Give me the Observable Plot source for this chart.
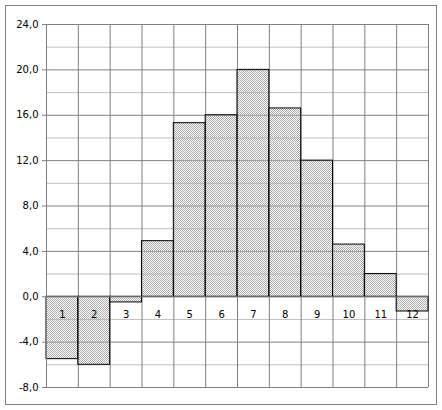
<!DOCTYPE html>
<html>
<head>
<meta charset="utf-8">
<script src="https://cdn.jsdelivr.net/npm/d3@7"></script>
<script src="https://cdn.jsdelivr.net/npm/@observablehq/plot@0.6"></script>
<style>
  html, body { margin: 0; padding: 0; background: #fff; }
  svg { display: block; }
</style>
</head>
<body>
<div id="chart"></div>
<script>
const months = [1, 2, 3, 4, 5, 6, 7, 8, 9, 10, 11, 12];
const values = [-5.5, -6.0, -0.5, 4.9, 15.3, 16.0, 20.0, 16.6, 12.0, 4.6, 2.0, -1.3];
const yTicks = [-8, -4, 0, 4, 8, 12, 16, 20, 24];
const yMinor = [-6, -2, 2, 6, 10, 14, 18, 22];

const data = months.map((m, i) => ({ m, v: values[i] }));
const edges = [months[0] - 0.5, ...months.map(m => m + 0.5)];

const chart = Plot.plot({
  width: 442,
  height: 410,
  marginLeft: 46,
  marginRight: 14,
  marginTop: 24,
  marginBottom: 23,
  x: { domain: [0.5, 12.5], axis: null },
  y: { domain: [-8, 24], axis: null },
  style: { fontFamily: "'DejaVu Sans', Verdana, sans-serif", fontSize: "10px", background: "#fff", color: "#000" },
  marks: [
    Plot.ruleY(yMinor, { stroke: "#c0c0c0", strokeWidth: 1 }),
    Plot.ruleY(yTicks, { stroke: "#808080", strokeWidth: 1 }),
    Plot.ruleX(edges, { stroke: "#808080", strokeWidth: 1 }),
    Plot.rect(data, {
      x1: d => d.m - 0.5, x2: d => d.m + 0.5, y1: 0, y2: "v",
      fill: "url(#hatch)", stroke: "#000", strokeWidth: 1
    }),
    Plot.ruleY([0], { stroke: "#808080", strokeWidth: 1 }),
    Plot.ruleX([edges[0]], { stroke: "#808080", strokeWidth: 1 }),
    Plot.axisY(yTicks, {
      label: null, tickSize: 4, tickPadding: 4, stroke: "#808080", fill: "#000",
      tickFormat: d => d.toFixed(1).replace(".", ",")
    }),
    Plot.text(months, { x: d => d, y: 0, dy: 18, text: d => String(d), fill: "#000" })
  ]
});

const ns = "http://www.w3.org/2000/svg";
const defs = document.createElementNS(ns, "defs");
defs.innerHTML = `
  <pattern id="hatch" patternUnits="userSpaceOnUse" width="2" height="2">
    <rect x="0" y="0" width="1" height="1" fill="#acacac"/>
    <rect x="1" y="1" width="1" height="1" fill="#acacac"/>
  </pattern>`;
chart.insertBefore(defs, chart.firstChild);
const border = document.createElementNS(ns, "rect");
border.setAttribute("x", 5.5);
border.setAttribute("y", 5.5);
border.setAttribute("width", 431);
border.setAttribute("height", 399);
border.setAttribute("fill", "none");
border.setAttribute("stroke", "#808080");
chart.appendChild(border);
document.getElementById("chart").appendChild(chart);
</script>
</body>
</html>
